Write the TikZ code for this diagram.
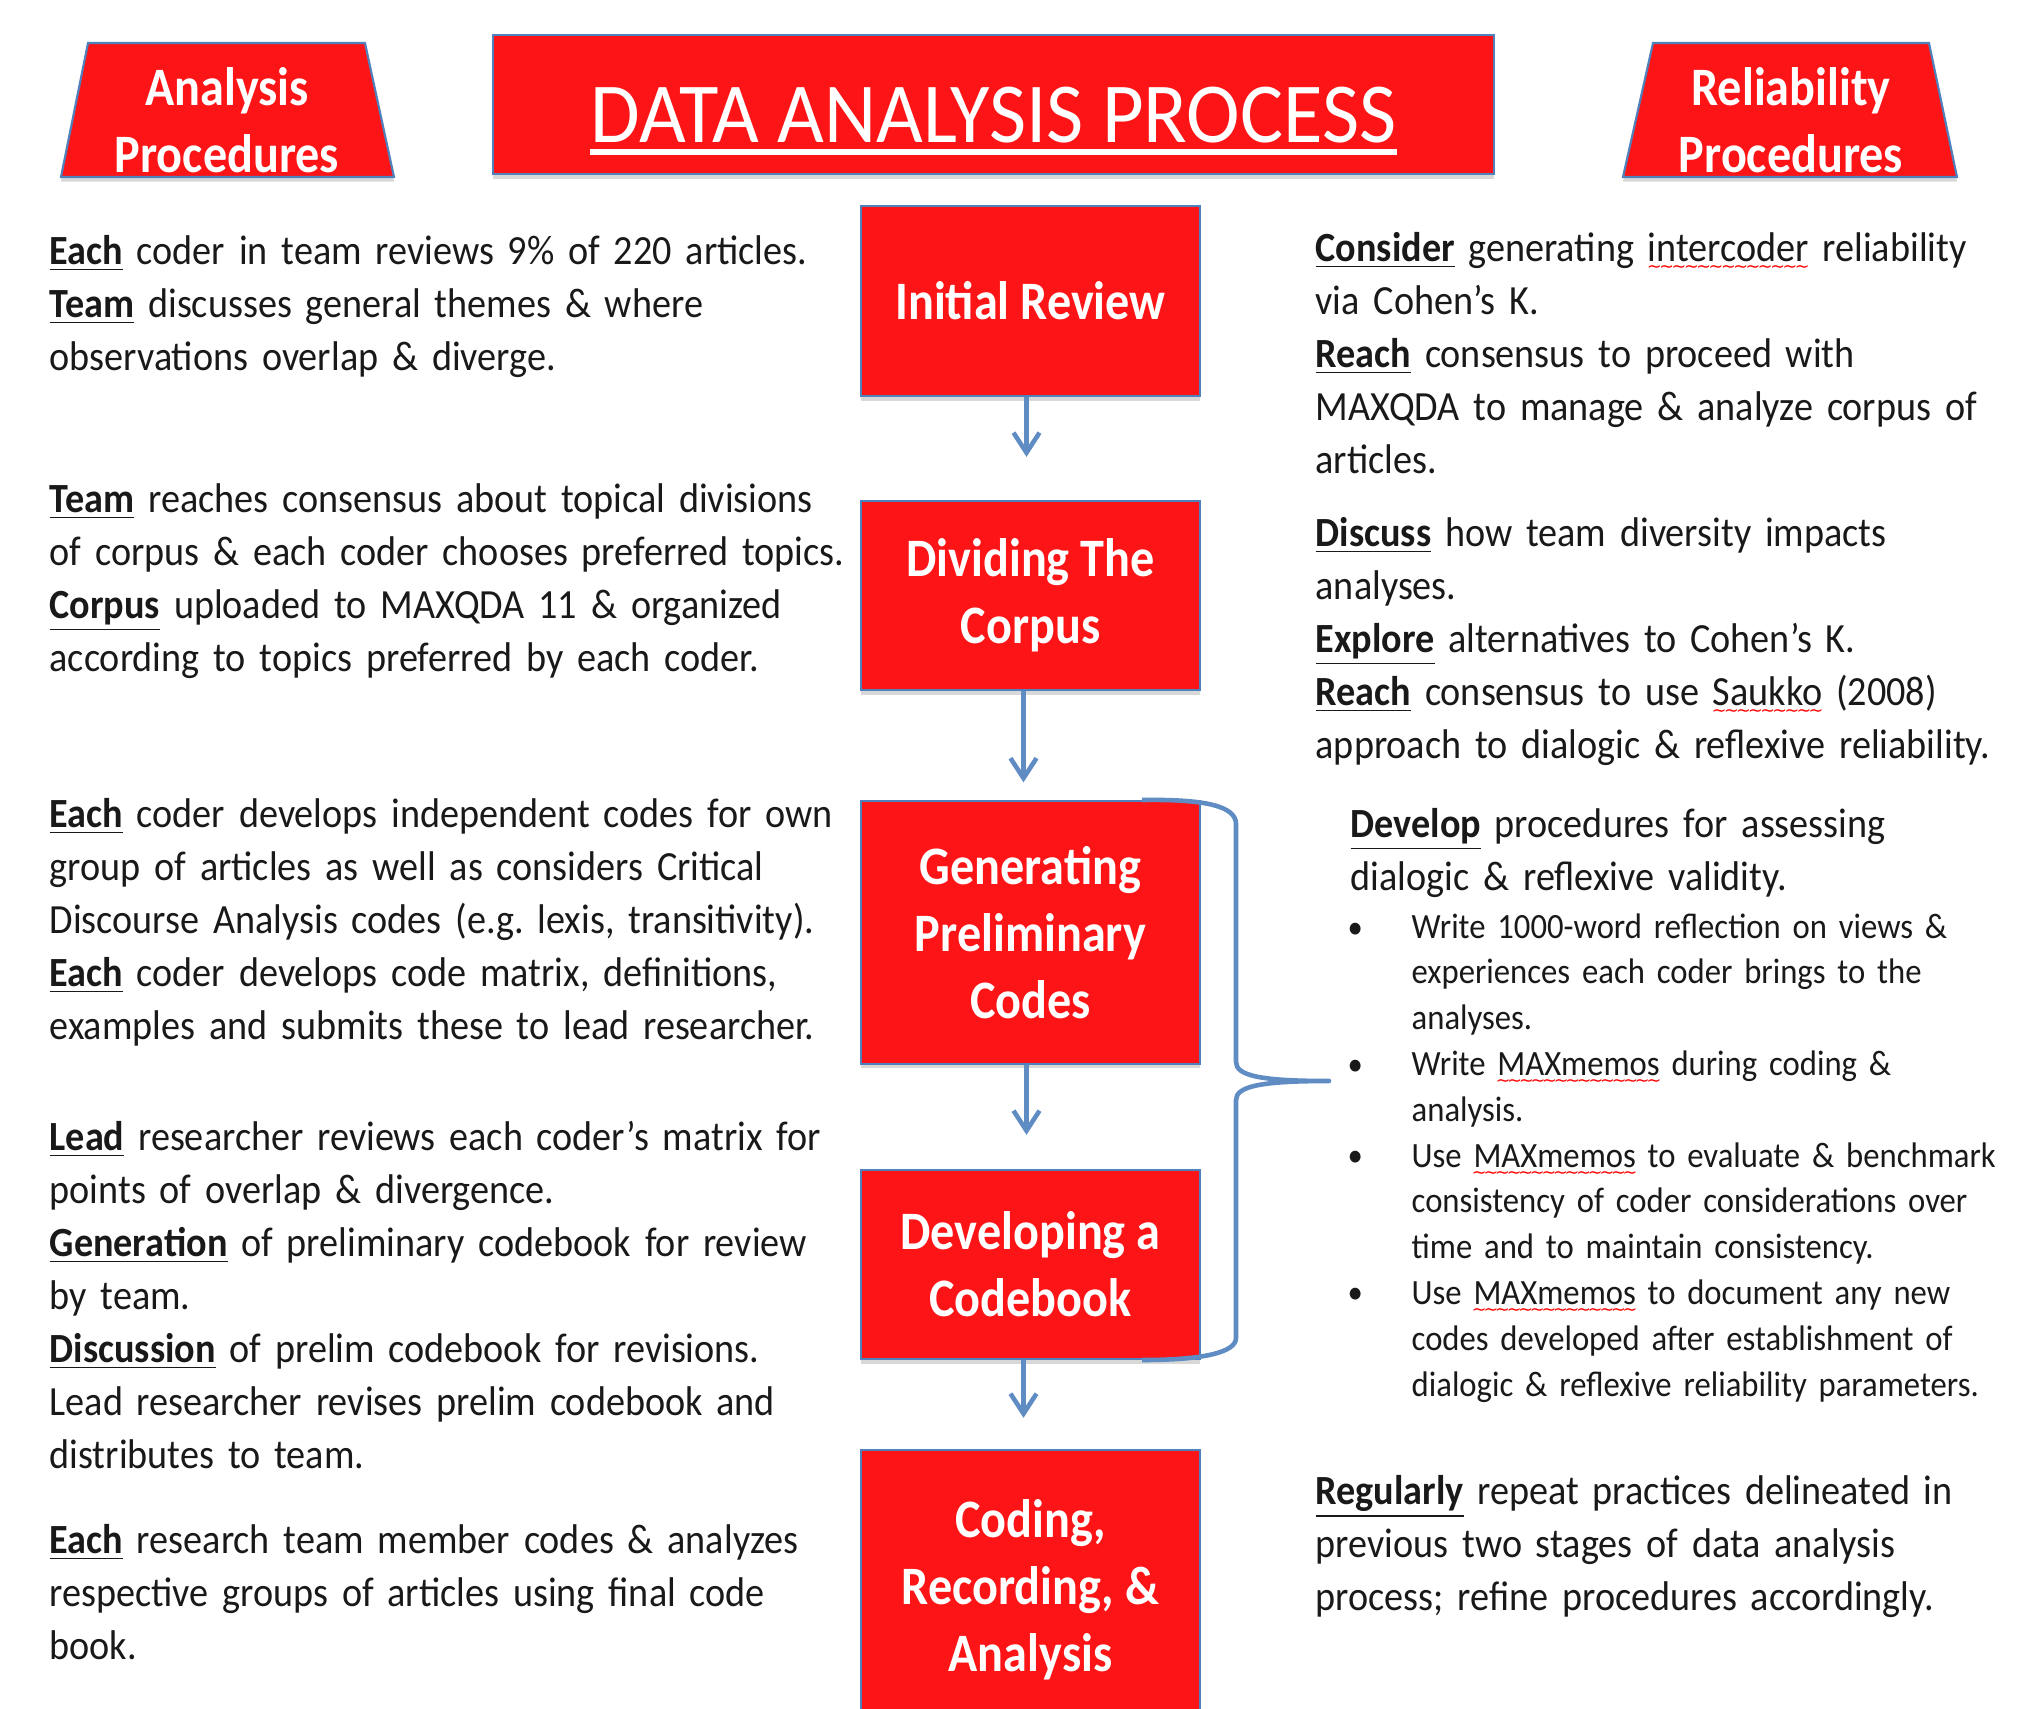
\documentclass[tikz,border=0pt]{standalone}
\usepackage{fontspec}
\setmainfont[FakeStretch=0.92, WordSpace=0.88]{Carlito}
\newfontfamily\boxfont[FakeStretch=0.89]{Carlito}
\newfontfamily\titlefont[FakeStretch=0.945]{Carlito}
\newfontfamily\wavefam{DejaVu Sans}
\usetikzlibrary{arrows.meta,shadows}
\definecolor{boxred}{RGB}{252,20,22}
\definecolor{flowblue}{RGB}{95,140,195}
\definecolor{edgeblue}{RGB}{79,129,189}
\definecolor{txt}{RGB}{25,25,25}
\frenchspacing
\newcommand\kw[1]{\underline{\textbf{#1}}}
\newsavebox\spellbox
\newcommand\spell[1]{\sbox\spellbox{#1}\rlap{\color{red}\lower3.2pt\hbox to \wd\spellbox{\xleaders\hbox{\wavefam\fontsize{5}{5}\selectfont\kern-0.45pt\char"007E\kern-0.45pt}\hfill}}\usebox\spellbox}
\tikzset{
  stagebox/.style={fill=boxred, draw=edgeblue, line width=0.6pt, text=white,
    font=\boxfont\bfseries\fontsize{15.4}{19.06}\selectfont, align=center,
    minimum width=3.39cm, inner sep=0pt,
    drop shadow={shadow xshift=0pt, shadow yshift=-1.3pt, opacity=0.3}},
  headfill/.style={fill=boxred, draw=edgeblue, line width=0.6pt,
    drop shadow={shadow xshift=0pt, shadow yshift=-1.3pt, opacity=0.3}},
  headtext/.style={text=white, font=\boxfont\bfseries\fontsize{15.4}{19.06}\selectfont, align=center, inner sep=0pt},
  body/.style={anchor=base west, inner sep=0pt, text width=9cm, align=left, text=txt,
    font=\fontsize{11.8}{15.08}\selectfont},
  smallbody/.style={body, font=\fontsize{10.1}{13.03}\selectfont},
  bul/.style={anchor=base west, inner sep=0pt, text=txt, font=\fontsize{9.5}{13.03}\selectfont},
  flow/.style={draw=flowblue, line width=1.3pt, -{Straight Barb[length=2mm,width=2.6mm]}},
  brace/.style={draw=flowblue, line width=1.3pt, line join=round}
}
\begin{document}
\begin{tikzpicture}[x=0.01cm, y=-0.01cm]
\clip (0,0) rectangle (2023,1708);
\fill[white] (0,0) rectangle (2023,1708);

% header shapes
\fill[headfill] (88,43) -- (365,43) -- (394,177) -- (61,177) -- cycle;
\node[headtext] (apL) at (227,120) {Analysis\\Procedures};
\fill[headfill] (1653,43) -- (1929,43) -- (1957,177) -- (1623,177) -- cycle;
\node[headtext] (apR) at (1791,120) {Reliability\\Procedures};
\node[headfill, minimum width=10.01cm, minimum height=1.39cm] (tbox) at (993.5,104.5) {};
\node[text=white, inner sep=0pt, font=\titlefont\fontsize{24.3}{28}\selectfont, anchor=base] (title) at (993.5,142) {DATA ANALYSIS PROCESS};
\draw[white, line width=1.7pt] ([yshift=-2.8pt]title.base west) -- ([yshift=-2.8pt]title.base east);

% flow boxes
\node[stagebox, minimum height=1.90cm] (b1) at (1030.5,301) {Initial Review};
\node[stagebox, minimum height=1.89cm] (b2) at (1030.5,595.5) {Dividing The\\Corpus};
\node[stagebox, minimum height=2.62cm] (b3) at (1030.5,932.5) {Generating\\Preliminary\\Codes};
\node[stagebox, minimum height=1.89cm] (b4) at (1030.5,1264.5) {Developing a\\Codebook};
\node[stagebox, minimum height=2.80cm] (b5) at (1030.5,1590) {Coding,\\Recording, \&\\Analysis};

\draw[flow, shorten >=0.43cm] ([xshift=-0.04cm]b1.south) -- ([xshift=-0.04cm]b2.north);
\draw[flow, shorten >=0.18cm] ([xshift=-0.07cm]b2.south) -- ([xshift=-0.07cm]b3.north);
\draw[flow, shorten >=0.34cm] ([xshift=-0.04cm]b3.south) -- ([xshift=-0.04cm]b4.north);
\draw[flow, shorten >=0.31cm] ([xshift=-0.07cm]b4.south) -- ([xshift=-0.07cm]b5.north);

% brace
\draw[brace] (1142,800) .. controls (1205,799) and (1236,806) .. (1236,824)
  -- (1236,1062) .. controls (1236,1076) and (1262,1081) .. (1329,1081)
  .. controls (1262,1081) and (1236,1086) .. (1236,1100)
  -- (1236,1338) .. controls (1236,1352) and (1205,1360) .. (1142,1360);

% left column
\node[body] (l1) at (49,264) {\kw{Each} coder in team reviews 9\% of 220 articles.\\
\kw{Team} discusses general themes \& where\\
observations overlap \& diverge.};
\node[body] (l2) at (49,512) {\kw{Team} reaches consensus about topical divisions\\
of corpus \& each coder chooses preferred topics.\\
\kw{Corpus} uploaded to MAXQDA 11 \& organized\\
according to topics preferred by each coder.};
\node[body] (l3) at (49,827) {\kw{Each} coder develops independent codes for own\\
group of articles as well as considers Critical\\
Discourse Analysis codes (e.g. lexis, transitivity).\\
\kw{Each} coder develops code matrix, definitions,\\
examples and submits these to lead researcher.};
\node[body] (l4) at (49,1150) {\kw{Lead} researcher reviews each coder’s matrix for\\
points of overlap \& divergence.\\
\kw{Generation} of preliminary codebook for review\\
by team.\\
\kw{Discussion} of prelim codebook for revisions.\\
Lead researcher revises prelim codebook and\\
distributes to team.};
\node[body] (l5) at (49,1553) {\kw{Each} research team member codes \& analyzes\\
respective groups of articles using final code\\
book.};

% right column
\node[body] (r1) at (1315,261) {\kw{Consider} generating \spell{intercoder} reliability\\
via Cohen’s K.\\
\kw{Reach} consensus to proceed with\\
MAXQDA to manage \& analyze corpus of\\
articles.};
\node[body] (r2) at (1315,546) {\kw{Discuss} how team diversity impacts\\
analyses.\\
\kw{Explore} alternatives to Cohen’s K.\\
\kw{Reach} consensus to use \spell{Saukko} (2008)\\
approach to dialogic \& reflexive reliability.};
\node[body] (r3) at (1350,837) {\kw{Develop} procedures for assessing\\
dialogic \& reflexive validity.};
\node[smallbody] (r4) at (1411,938) {Write 1000-word reflection on views \&\\
experiences each coder brings to the\\
analyses.\\
Write \spell{MAXmemos} during coding \&\\
analysis.\\
Use \spell{MAXmemos} to evaluate \& benchmark\\
consistency of coder considerations over\\
time and to maintain consistency.\\
Use \spell{MAXmemos} to document any new\\
codes developed after establishment of\\
dialogic \& reflexive reliability parameters.};
\node[bul] (d1) at (1347,938) {•};
\node[bul] (d2) at (1347,1075) {•};
\node[bul] (d3) at (1347,1166) {•};
\node[bul] (d4) at (1347,1303) {•};
\node[body] (r5) at (1315,1504) {\kw{Regularly} repeat practices delineated in\\
previous two stages of data analysis\\
process; refine procedures accordingly.};
\end{tikzpicture}
\end{document}
